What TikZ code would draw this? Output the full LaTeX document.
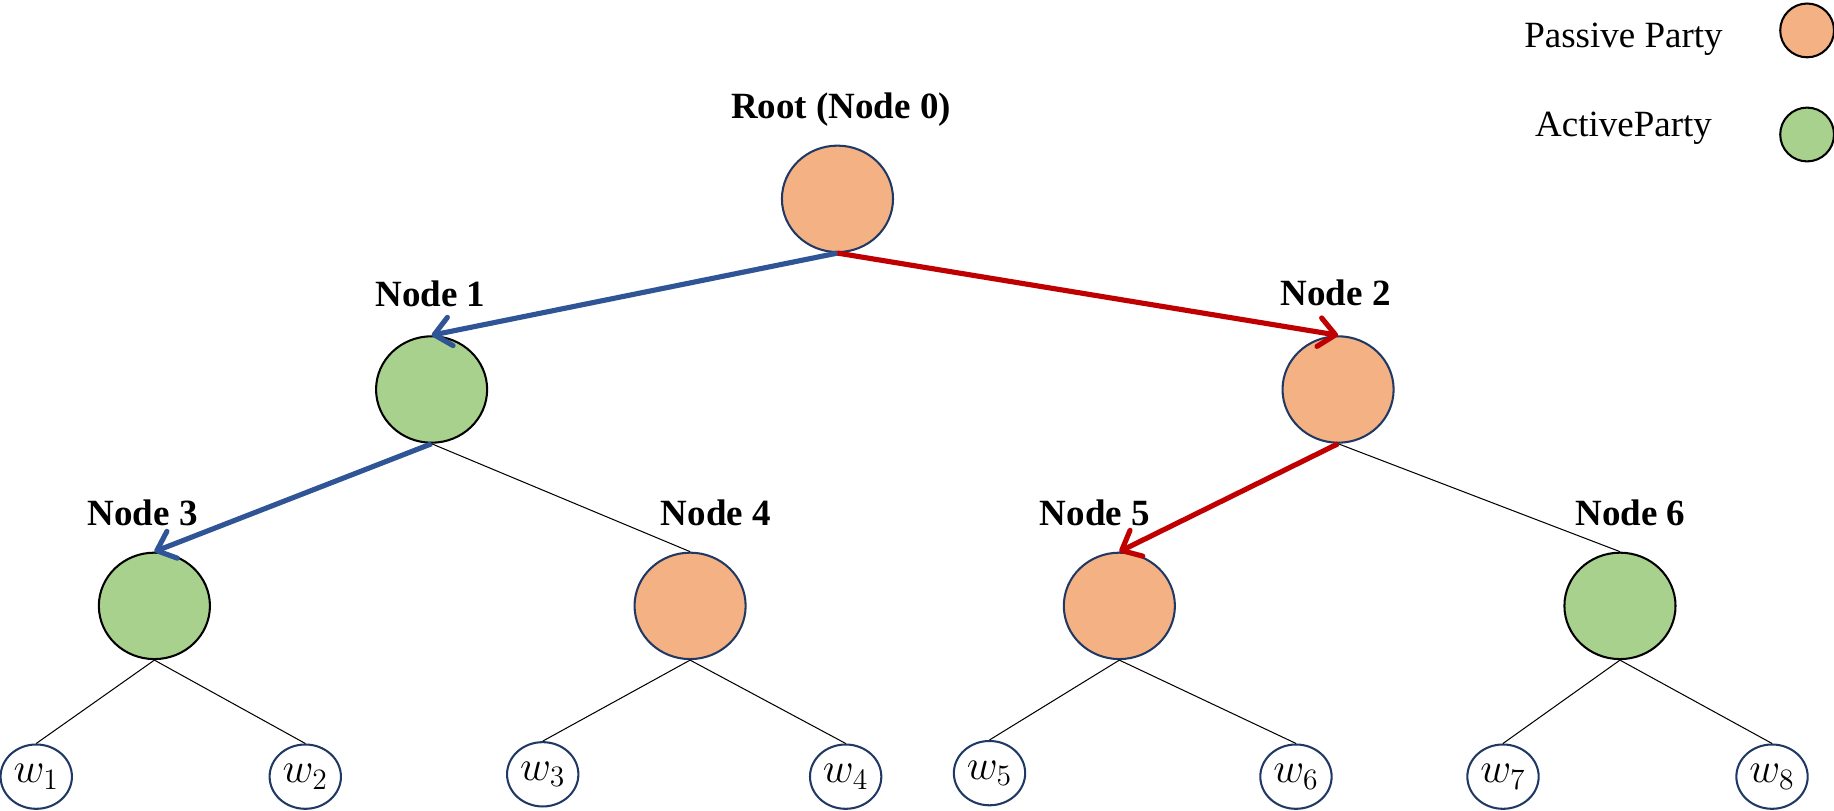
\documentclass[tikz,border=0pt]{standalone}
\usepackage{fontspec}
\setmainfont{Liberation Serif}
\usetikzlibrary{shapes.geometric,arrows.meta}
\definecolor{passive}{HTML}{F4B183}
\definecolor{active}{HTML}{A9D18E}
\definecolor{navy}{HTML}{1F3864}
\definecolor{bluearr}{HTML}{2F5597}
\definecolor{redarr}{HTML}{C00000}
\tikzset{
  pnode/.style={ellipse,draw=navy,line width=1pt,fill=passive,minimum width=1.9cm,minimum height=1.82cm,inner sep=0pt},
  anode/.style={ellipse,draw=black,line width=1pt,fill=active,minimum width=1.9cm,minimum height=1.82cm,inner sep=0pt},
  leaf/.style={ellipse,draw=navy,line width=1pt,fill=white,minimum width=1.22cm,minimum height=1.1cm,inner sep=0pt,font=\fontsize{22}{24}\selectfont},
  lab/.style={anchor=base,font=\fontsize{18}{21}\selectfont\bfseries,inner sep=0pt},
  leg/.style={anchor=base,font=\fontsize{18}{21}\selectfont,inner sep=0pt},
  legp/.style={ellipse,draw=black,line width=1pt,fill=passive,minimum width=0.92cm,minimum height=0.92cm,inner sep=0pt},
  lega/.style={ellipse,draw=black,line width=1pt,fill=active,minimum width=0.92cm,minimum height=0.92cm,inner sep=0pt},
  thin/.style={draw=black,line width=0.5pt},
  barr/.style={draw=bluearr,line width=2.5pt,-{Straight Barb[length=8pt,width=14pt,line join=round,line cap=round]}},
  rarr/.style={draw=redarr,line width=2.5pt,-{Straight Barb[length=8pt,width=14pt,line join=round,line cap=round]}},
}
\begin{document}
\begin{tikzpicture}[x=0.02cm,y=-0.02cm]
\useasboundingbox (0,0) rectangle (1568,693);
% legend
\node[leg] (lpt) at (1388,41) {Passive Party};
\node[leg] (lat) at (1388,117) {ActiveParty};
\node[legp] (lpc) at (1545,26) {};
\node[lega] (lac) at (1545,115) {};
% main nodes
\node[pnode] (n0) at (716,170) {};
\node[anode] (n1) at (369,333) {};
\node[pnode] (n2) at (1144,333) {};
\node[anode] (n3) at (132,518) {};
\node[pnode] (n4) at (590,518) {};
\node[pnode] (n5) at (957,518) {};
\node[anode] (n6) at (1385,518) {};
% labels
\node[lab] (t0) at (719,101) {Root (Node 0)};
\node[lab] (t1) at (368,262) {Node 1};
\node[lab] (t2) at (1142,261) {Node 2};
\node[lab] (t3) at (122,449) {Node 3};
\node[lab] (t4) at (612,449) {Node 4};
\node[lab] (t5) at (936,449) {Node 5};
\node[lab] (t6) at (1394,449) {Node 6};
% leaves
\node[leaf] (w1) at (31,664) {$w_1$};
\node[leaf] (w2) at (261,664) {$w_2$};
\node[leaf] (w3) at (464,662) {$w_3$};
\node[leaf] (w4) at (723,664) {$w_4$};
\node[leaf] (w5) at (846,661) {$w_5$};
\node[leaf] (w6) at (1108,664) {$w_6$};
\node[leaf] (w7) at (1285,664) {$w_7$};
\node[leaf] (w8) at (1515,664) {$w_8$};
% edges
\draw[barr] (n0.south) -- (n1.north);
\draw[rarr] (n0.south) -- (n2.north);
\draw[barr] (n1.south) -- (n3.north);
\draw[thin] (n1.south) -- (n4.north);
\draw[rarr] (n2.south) -- (n5.north);
\draw[thin] (n2.south) -- (n6.north);
\draw[thin] (n3.south) -- (w1.north);
\draw[thin] (n3.south) -- (w2.north);
\draw[thin] (n4.south) -- (w3.north);
\draw[thin] (n4.south) -- (w4.north);
\draw[thin] (n5.south) -- (w5.north);
\draw[thin] (n5.south) -- (w6.north);
\draw[thin] (n6.south) -- (w7.north);
\draw[thin] (n6.south) -- (w8.north);
\end{tikzpicture}
\end{document}
